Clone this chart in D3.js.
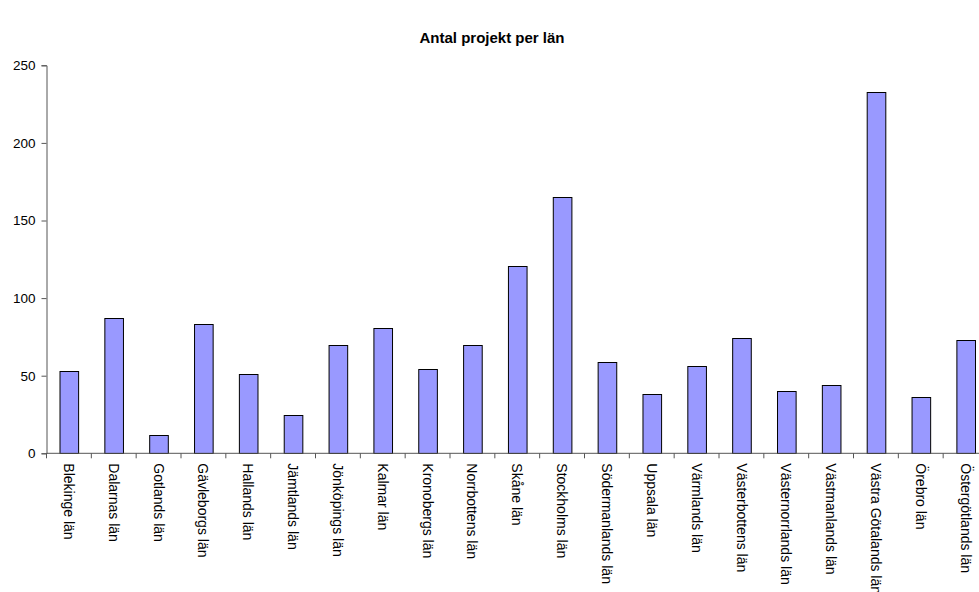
<!DOCTYPE html>
<html><head><meta charset="utf-8">
<script src="https://cdn.jsdelivr.net/npm/d3@7"></script>
<style>body{margin:0;background:#fff;overflow:hidden}svg{display:block}</style>
</head><body>
<script>
const categories = ["Blekinge län","Dalarnas län","Gotlands län","Gävleborgs län","Hallands län","Jämtlands län","Jönköpings län","Kalmar län","Kronobergs län","Norrbottens län","Skåne län","Stockholms län","Södermanlands län","Uppsala län","Värmlands län","Västerbottens län","Västernorrlands län","Västmanlands län","Västra Götalands län","Örebro län","Östergötlands län"];
const values = [53,87,12,83,51,25,70,81,54,70,121,165,59,38,56,74,40,44,233,36,73];
const yTicks = [0,50,100,150,200,250];
const title = "Antal projekt per län";

const W = 979, H = 592;
const svg = d3.select("body").append("svg").attr("width", W).attr("height", H);
const font = "'Liberation Sans', Arial, sans-serif";
const mLeft = 46.5, mRight = 988, mTop = 65.3, mBottom = 453.3;

const x = d3.scaleBand().domain(categories).range([mLeft, mRight]).paddingInner(0.585).paddingOuter(0.29);
const y = d3.scaleLinear().domain([0, 250]).range([mBottom, mTop]);

svg.append("text").attr("x", 492).attr("y", 43).attr("text-anchor", "middle")
  .style("font-family", font).style("font-weight", "bold").style("font-size", "15px").text(title);

svg.append("g").selectAll("rect").data(values).join("rect")
  .attr("x", (d, i) => x(categories[i]) + 0.5)
  .attr("y", d => Math.round(y(d)) + 0.5)
  .attr("width", x.bandwidth())
  .attr("height", d => Math.round(mBottom) - Math.round(y(d)))
  .attr("fill", "#9999ff").attr("stroke", "#000").attr("stroke-width", 1);

// y axis
const yAxis = svg.append("g").attr("transform", `translate(${mLeft},0)`)
  .call(d3.axisLeft(y).tickValues(yTicks).tickSize(5).tickPadding(6));
yAxis.selectAll("text").style("font-family", font).style("font-size", "13.5px").attr("fill", "#000");
yAxis.selectAll("line, path").attr("stroke", "#555");

// x axis
const xg = svg.append("g");
xg.append("line").attr("x1", mLeft).attr("x2", mRight).attr("y1", mBottom).attr("y2", mBottom).attr("stroke", "#555");
const bounds = d3.range(categories.length + 1).map(i => mLeft + i * (mRight - mLeft) / categories.length);
xg.selectAll("line.t").data(bounds).join("line").attr("class", "t")
  .attr("x1", d => d).attr("x2", d => d).attr("y1", mBottom).attr("y2", mBottom + 5).attr("stroke", "#555");
xg.selectAll("text").data(categories).join("text")
  .attr("transform", d => `translate(${x(d) + x.bandwidth() / 2},${mBottom + 10}) rotate(90)`)
  .attr("dy", "0.35em").attr("text-anchor", "start")
  .style("font-family", font).style("font-size", "14px").attr("fill", "#000").text(d => d);
</script>
</body></html>
